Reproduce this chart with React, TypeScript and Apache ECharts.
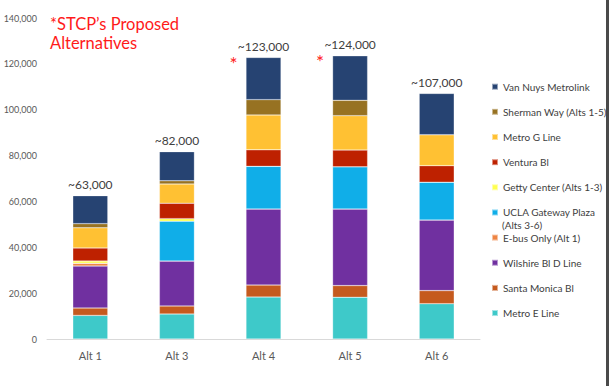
import React, { useEffect, useRef } from "react";
import * as echarts from "echarts";

const categories = ["Alt 1", "Alt 3", "Alt 4", "Alt 5", "Alt 6"];
const totalLabels = ["~63,000", "~82,000", "~123,000", "~124,000", "~107,000"];
const starredAlts = ["Alt 4", "Alt 5"];

const metroE = [10300, 10900, 18300, 18200, 15400];
const santaMonica = [3200, 3500, 5200, 5100, 5700];
const wilshire = [18300, 19600, 33200, 33400, 30800];
const eBusOnly = [1200, 0, 0, 0, 0];
const uclaGateway = [0, 17400, 18600, 18400, 16500];
const gettyCenter = [1000, 1100, 0, 0, 0];
const ventura = [5700, 6700, 7200, 7300, 7200];
const metroG = [8800, 8400, 15200, 15000, 13500];
const shermanWay = [1800, 1400, 6700, 6700, 0];
const vanNuys = [12200, 12700, 18400, 19400, 18000];

const seriesDefs = [
  { name: "Metro E Line", data: metroE, color: "#3ec9c9" },
  { name: "Santa Monica Bl", data: santaMonica, color: "#c55a1e" },
  { name: "Wilshire Bl D Line", data: wilshire, color: "#7030a0" },
  { name: "E-bus Only (Alt 1)", data: eBusOnly, color: "#ee8443" },
  { name: "UCLA Gateway Plaza", data: uclaGateway, color: "#10aee8" },
  { name: "Getty Center (Alts 1-3)", data: gettyCenter, color: "#ffff50" },
  { name: "Ventura Bl", data: ventura, color: "#be2100" },
  { name: "Metro G Line", data: metroG, color: "#ffc133" },
  { name: "Sherman Way (Alts 1-5)", data: shermanWay, color: "#977222" },
  { name: "Van Nuys Metrolink", data: vanNuys, color: "#264372" },
];

const FONT = "Lato";

export default function App() {
  const ref = useRef<HTMLDivElement>(null);
  useEffect(() => {
    if (!ref.current) return;
    const chart = echarts.init(ref.current, undefined, { renderer: "svg" });
    const totals = categories.map((_, i) =>
      seriesDefs.reduce((s, d) => s + d.data[i], 0)
    );
    const series: any[] = seriesDefs.map((d, idx) => {
      const s: any = {
        name: d.name,
        type: "bar",
        stack: "total",
        data: d.data,
        barWidth: 35,
        itemStyle: { color: d.color, borderColor: "rgba(255,255,255,0.5)", borderWidth: 0.5 },
      };
      if (idx === seriesDefs.length - 1) {
        s.label = {
          show: true,
          position: "top",
          distance: 5,
          formatter: (p: any) => totalLabels[p.dataIndex],
          color: "#404040",
          fontSize: 12,
          fontFamily: FONT,
        };
        s.markPoint = {
          symbol: "circle",
          symbolSize: 0,
          label: {
            show: true,
            formatter: "*",
            color: "#ff2020",
            fontSize: 19,
            fontFamily: FONT,
            offset: [-30, 6],
          },
          data: starredAlts.map((a) => ({
            coord: [a, totals[categories.indexOf(a)]],
          })),
        };
      }
      return s;
    });
    chart.setOption({
      animation: false,
      backgroundColor: "#ffffff",
      title: {
        text: "*STCP\u2019s Proposed\nAlternatives",
        left: 50,
        top: 14,
        padding: 0,
        textStyle: {
          color: "#ff1a1a",
          fontSize: 16.5,
          fontWeight: "normal",
          fontFamily: FONT,
          lineHeight: 19.5,
        },
      },
      grid: { left: 47, right: 130, top: 18, bottom: 47 },
      legend: {
        orient: "vertical",
        left: 491,
        top: 80.7,
        padding: 0,
        itemWidth: 6,
        itemHeight: 6,
        itemGap: 13.15,
        icon: "rect",
        data: seriesDefs.map((d) => d.name).reverse(),
        textStyle: { color: "#404040", fontSize: 10, fontFamily: FONT, lineHeight: 12 },
      },
      xAxis: {
        type: "category",
        data: categories,
        axisLine: { lineStyle: { color: "#d9d9d9", width: 1 } },
        axisTick: { show: false },
        axisLabel: { color: "#595959", fontSize: 11, fontFamily: FONT, margin: 11 },
      },
      yAxis: {
        type: "value",
        min: 0,
        max: 140000,
        interval: 20000,
        splitLine: { show: false },
        axisLine: { show: false },
        axisTick: { show: false },
        axisLabel: {
          color: "#595959",
          fontSize: 9,
          fontFamily: FONT,
          margin: 10,
          formatter: (v: number) => v.toLocaleString("en-US"),
        },
      },
      graphic: [
        {
          type: "text",
          left: 502,
          top: 220,
          style: { text: "(Alts 3-6)", fill: "#404040", fontSize: 10, fontFamily: FONT },
        },
        {
          type: "rect",
          shape: { x: 606, y: 0, width: 3, height: 386 },
          style: { fill: "#4a4a4a" },
        },
      ],
      series,
    });
    return () => chart.dispose();
  }, []);
  return (
    <div
      ref={ref}
      style={{ position: "fixed", left: 0, top: 0, width: 610, height: 386 }}
    />
  );
}
